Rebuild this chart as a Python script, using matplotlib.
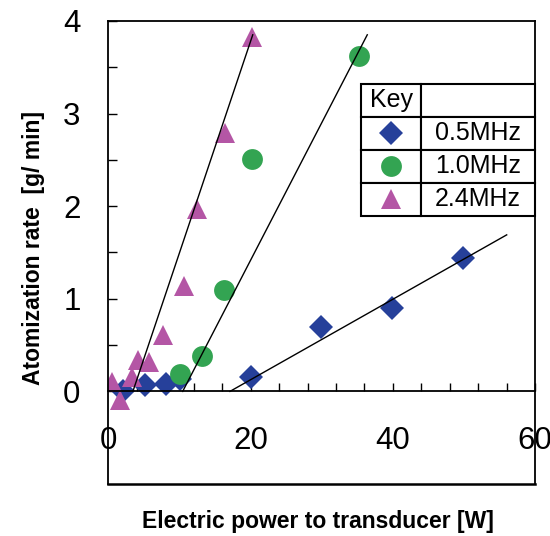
import numpy as np
import matplotlib.pyplot as plt
from matplotlib.ticker import MultipleLocator, FixedLocator

plt.rcParams['font.family'] = ['Liberation Sans', 'DejaVu Sans']

# Valeurs
x_05 = [2.1, 5.1, 8.1, 10.1, 20.1, 29.9, 39.9, 49.9]
y_05 = [0.0, 0.07, 0.075, 0.13, 0.15, 0.69, 0.90, 1.44]
x_10 = [10.1, 13.1, 16.2, 20.2, 35.2]
y_10 = [0.19, 0.38, 1.09, 2.51, 3.62]
x_24 = [0.45, 1.6, 3.3, 4.2, 5.75, 7.7, 10.7, 12.5, 16.4, 20.2]
y_24 = [0.10, -0.09, 0.16, 0.34, 0.32, 0.61, 1.14, 1.97, 2.79, 3.83]

# Droites de tendance (extrémités)
trend_05 = ([17.1, 56.0], [0.0, 1.69])
trend_10 = ([10.45, 36.4], [0.0, 3.85])
trend_24 = ([3.45, 20.3], [0.0, 3.85])

labels = ['0.5MHz', '1.0MHz', '2.4MHz']
colors = ['#26409a', '#33a452', '#b456a5']
markers = ['D', 'o', '^']
sizes = [12.5, 15, 15]

fig = plt.figure(figsize=(5.5, 5.36), dpi=100)
ax = fig.add_axes([0.197, 0.097, 0.776, 0.864])

for tx, ty in [trend_05, trend_10, trend_24]:
    ax.plot(tx, ty, color='black', lw=1.0, zorder=3)

series = [(x_05, y_05), (x_10, y_10), (x_24, y_24)]
for (xs, ys), c, m, s in zip(series, colors, markers, sizes):
    ax.plot(xs, ys, linestyle='none', marker=m, ms=s, color=c,
            markeredgewidth=0, zorder=2)

ax.set_xlim(0, 60)
ax.set_ylim(-1, 4)

# axe horizontal à y=0, cadre complet
ax.spines['bottom'].set_position(('data', 0))
for sp in ax.spines.values():
    sp.set_linewidth(1.3)
ax.plot([0, 1], [0, 0], transform=ax.transAxes, color='black', lw=1.8,
        clip_on=False)

ax.xaxis.set_major_locator(FixedLocator([0, 20, 40, 60]))
ax.xaxis.set_minor_locator(MultipleLocator(4))
ax.yaxis.set_major_locator(FixedLocator([0, 1, 2, 3, 4]))
ax.yaxis.set_minor_locator(FixedLocator([0.5, 1.5, 2.5, 3.5]))

ax.tick_params(axis='x', which='both', direction='in', length=6, width=1,
               top=False, labelsize=22.5, pad=25)
ax.tick_params(axis='y', which='both', direction='in', length=6.5, width=1,
               right=False, labelsize=22.5, pad=20)

ax.set_xlabel('Electric power to transducer [W]', fontsize=16.5,
              fontweight='bold', va='center')
ax.xaxis.set_label_coords(0.49, -0.082)
ax.set_ylabel('Atomization rate  [g/ min]', fontsize=16.5,
              fontweight='bold', va='center')
ax.yaxis.set_label_coords(-0.175, 0.509)

# Légende sous forme de tableau
cell_text = [['Key', '']] + [['', lab] for lab in labels]
tab = ax.table(cellText=cell_text, colWidths=[0.345, 0.655],
               bbox=[0.592, 0.579, 0.408, 0.285], cellLoc='center',
               zorder=5)
tab.auto_set_font_size(False)
for (r, c), cell in tab.get_celld().items():
    cell.set_linewidth(1.5)
    cell.set_edgecolor('black')
    cell.set_facecolor('white')
    cell.get_text().set_fontsize(18)
row_h = 0.285 / 4
for i, (c, m, s) in enumerate(zip(colors, markers, sizes)):
    yc = 0.864 - row_h * (i + 1.5)
    ax.plot([0.592 + 0.408 * 0.345 / 2], [yc], transform=ax.transAxes,
            marker=m, ms=s, color=c, markeredgewidth=0, zorder=6,
            clip_on=False)

fig.savefig('out.png', dpi=100)
